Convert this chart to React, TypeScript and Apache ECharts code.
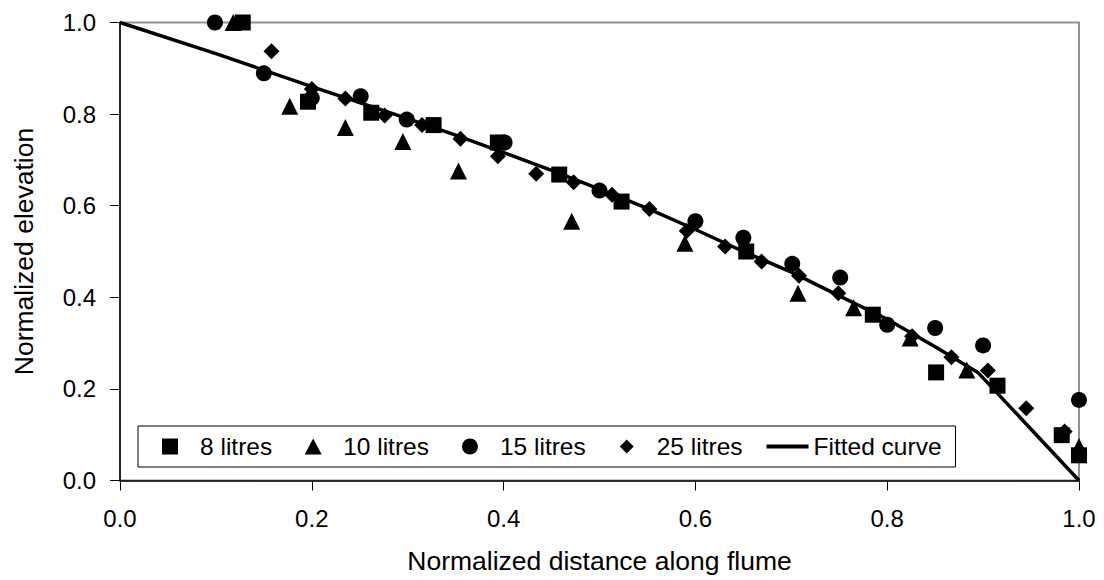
import React, { useEffect, useRef } from "react";
import * as echarts from "echarts";

const FONT = "'Liberation Sans', Arial, sans-serif";

const x8 = [0.128, 0.196, 0.262, 0.327, 0.394, 0.458, 0.523, 0.653, 0.785, 0.851, 0.915, 0.982, 1.0];
const y8 = [1.0, 0.827, 0.803, 0.776, 0.738, 0.668, 0.609, 0.5, 0.362, 0.236, 0.207, 0.099, 0.055];

const x10 = [0.118, 0.177, 0.235, 0.295, 0.353, 0.471, 0.589, 0.707, 0.765, 0.824, 0.883, 1.0];
const y10 = [1.0, 0.817, 0.771, 0.74, 0.676, 0.566, 0.518, 0.409, 0.377, 0.311, 0.241, 0.074];

const x15 = [0.099, 0.15, 0.2, 0.251, 0.299, 0.401, 0.5, 0.6, 0.65, 0.701, 0.751, 0.8, 0.85, 0.9, 1.0];
const y15 = [1.0, 0.889, 0.835, 0.839, 0.788, 0.738, 0.633, 0.566, 0.53, 0.473, 0.443, 0.34, 0.333, 0.295, 0.176];

const x25 = [0.158, 0.2, 0.235, 0.276, 0.315, 0.355, 0.394, 0.434, 0.473, 0.513, 0.552, 0.591, 0.631, 0.669, 0.708, 0.749, 0.786, 0.826, 0.867, 0.905, 0.945, 0.985];
const y25 = [0.937, 0.855, 0.834, 0.797, 0.776, 0.746, 0.708, 0.67, 0.651, 0.624, 0.593, 0.545, 0.511, 0.478, 0.447, 0.409, 0.362, 0.315, 0.269, 0.24, 0.158, 0.107];

const xFit = [0, 0.1, 0.2, 0.3, 0.35, 0.4, 0.45, 0.5, 0.55, 0.6, 0.65, 0.7, 0.75, 0.8, 0.85, 0.895, 1.0];
const yFit = [1, 0.932, 0.86, 0.79, 0.754, 0.716, 0.677, 0.636, 0.594, 0.548, 0.5, 0.455, 0.403, 0.352, 0.292, 0.235, 0];

const seriesNames = ["8 litres", "10 litres", "15 litres", "25 litres", "Fitted curve"];

// legend icons: 50x16 box with the mark inside (corner points fix the box)
const BOX = "M0,0L0,0M50,16L50,16";
const legendIcons = [
  `path://${BOX}M17,0H33V16H17Z`,
  `path://${BOX}M25,0L33.5,16H16.5Z`,
  `path://${BOX}M17,8A8,8,0,1,1,33,8A8,8,0,1,1,17,8Z`,
  `path://${BOX}M25,1L32,8L25,15L18,8Z`,
  `path://${BOX}M8,6H50V10H8Z`,
];

const zip = (xs: number[], ys: number[]) => xs.map((x, i) => [x, ys[i]]);

export default function App() {
  const ref = useRef<HTMLDivElement>(null);
  useEffect(() => {
    if (!ref.current) return;
    const chart = echarts.init(ref.current, null, { renderer: "svg" });
    const axisCommon = {
      type: "value" as const,
      min: 0,
      max: 1,
      interval: 0.2,
      nameLocation: "middle" as const,
      nameTextStyle: { fontSize: 26.5, color: "#000", fontFamily: FONT },
      axisLine: { show: true, lineStyle: { color: "#000", width: 1.5 } },
      axisTick: { show: true, inside: false, length: 10, lineStyle: { color: "#000", width: 1 } },
      axisLabel: {
        fontSize: 24,
        color: "#000",
        fontFamily: FONT,
        formatter: (v: number) => v.toFixed(1),
      },
      splitLine: { show: false },
    };
    const scatter = (name: string, symbol: string, size: number, data: number[][]) => ({
      name,
      type: "scatter",
      symbol,
      symbolSize: size,
      clip: false,
      itemStyle: { color: "#000", opacity: 1 },
      data,
      z: 3,
    });
    chart.setOption({
      animation: false,
      backgroundColor: "#fff",
      textStyle: { fontFamily: FONT },
      grid: {
        left: 120,
        right: 25,
        top: 22.5,
        bottom: 99.5,
        show: true,
        borderColor: "#929292",
        borderWidth: 2,
        backgroundColor: "transparent",
      },
      xAxis: {
        ...axisCommon,
        name: "Normalized distance along flume",
        nameGap: 67,
        axisLabel: { ...axisCommon.axisLabel, margin: 26 },
      },
      yAxis: {
        ...axisCommon,
        name: "Normalized elevation",
        nameGap: 83,
        axisLabel: { ...axisCommon.axisLabel, margin: 24 },
      },
      legend: {
        left: 138,
        top: 426,
        orient: "horizontal",
        backgroundColor: "#fff",
        borderColor: "#000",
        borderWidth: 1,
        borderRadius: 0,
        padding: [8, 14, 8, 7],
        itemGap: 16,
        itemWidth: 50,
        itemHeight: 16,
        symbolKeepAspect: true,
        itemStyle: { opacity: 1, color: "#000" },
        textStyle: { fontSize: 24.5, color: "#000", fontFamily: FONT },
        data: seriesNames.map((name, i) => ({ name, icon: legendIcons[i] })),
      },
      series: [
        scatter(seriesNames[0], "rect", 16, zip(x8, y8)),
        scatter(seriesNames[1], "triangle", 17, zip(x10, y10)),
        scatter(seriesNames[2], "circle", 16, zip(x15, y15)),
        scatter(seriesNames[3], "diamond", 16, zip(x25, y25)),
        {
          name: seriesNames[4],
          type: "line",
          data: zip(xFit, yFit),
          symbol: "none",
          showSymbol: false,
          clip: false,
          lineStyle: { color: "#000", width: 3.5 },
          itemStyle: { color: "#000", opacity: 1 },
          z: 4,
        },
      ],
    });
    return () => chart.dispose();
  }, []);
  return (
    <div
      ref={ref}
      style={{ position: "absolute", left: 0, top: 0, width: 1104, height: 580 }}
    />
  );
}
